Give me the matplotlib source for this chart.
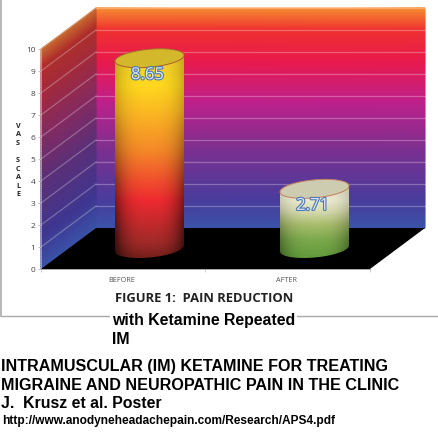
import numpy as np
import matplotlib
matplotlib.use("Agg")
import matplotlib.pyplot as plt
import matplotlib.patheffects as pe
from matplotlib.colors import LinearSegmentedColormap, to_rgb
from matplotlib.patches import Polygon

# chart data
categories = ["BEFORE", "AFTER"]
vas_values = [8.65, 2.71]
value_labels = ["8.65", "2.71"]
y_ticks = list(range(11))

W, H = 438, 446
PX_PER_UNIT = 22.0
Y0_PX = 269          # pixel row of VAS 0 on the front edge
DEPTH_X = 55         # 3d offset of the back wall
DEPTH_Y = 41 / PX_PER_UNIT
FRONT_L, FRONT_R = 41, 370
CAT_CENTERS = [122, 287]
BAR_A = 34.5         # half width of cylinder, px
BAR_B = 9.0          # half height of the ellipse, px
BAR_TILT = 3.0

wall_stops = [(0.0, "#3a52a8"), (0.13, "#4a3c9c"), (0.35, "#7a3090"), (0.58, "#c0208a"),
              (0.76, "#e81a4c"), (0.9, "#ef3030"), (1.0, "#f68a30")]
side_stops = [(0.0, "#3a52a8"), (0.15, "#3f3690"), (0.4, "#5c2f78"), (0.6, "#842a62"),
              (0.78, "#a02a40"), (0.92, "#ae2e2a"), (1.0, "#c86a30")]
bar_stops = [
    [(0.0, "#701e18"), (0.08, "#a02a28"), (0.28, "#ee2a30"), (0.52, "#f58a28"),
     (0.82, "#ffd81e"), (1.0, "#f0d030")],
    [(0.0, "#5f9a3a"), (0.24, "#7aa84a"), (0.43, "#a8bc6c"), (0.6, "#d8dcb0"),
     (0.73, "#ecebd0"), (1.0, "#e4e4c8")],
]
# brightness at the cylinder edge, (bottom, top)
bar_edge_dark = [(0.35, 0.8), (0.6, 0.85)]
bar_tops = ["#d4b82c", "#cdcbb0"]
bar_top_edges = ["#a8602a", "#c08060"]

wall_cmap = LinearSegmentedColormap.from_list("wall", wall_stops)
side_cmap = LinearSegmentedColormap.from_list("side", side_stops)

fig = plt.figure(figsize=(W / 100, H / 100), dpi=100)
ax = fig.add_axes([0, 0, 1, 1])
ax.set_xlim(0, W)
ax.set_ylim((Y0_PX - H) / PX_PER_UNIT, Y0_PX / PX_PER_UNIT)

# walls
v = np.linspace(0, 10, 101)
xx, vv = np.meshgrid([FRONT_L + DEPTH_X, W - 13], v)
ax.pcolormesh(xx, vv + DEPTH_Y, np.tile(v[:, None] / 10, (1, 2)), cmap=wall_cmap,
              shading="gouraud", vmin=0, vmax=1, zorder=1)
xx, vv = np.meshgrid([FRONT_L, FRONT_L + DEPTH_X], v)
yy = vv + np.array([0, DEPTH_Y])
ax.pcolormesh(xx, yy, np.tile(v[:, None] / 10, (1, 2)), cmap=side_cmap,
              shading="gouraud", vmin=0, vmax=1, zorder=1)

# floor
ax.add_patch(Polygon([(FRONT_L, 0), (FRONT_L + DEPTH_X, DEPTH_Y),
                      (FRONT_R + DEPTH_X, DEPTH_Y), (FRONT_R, 0)],
                     closed=True, fc="black", ec="none", zorder=2))

# gridlines
for t in y_ticks[1:]:
    ax.plot([FRONT_L, FRONT_L + DEPTH_X], [t, t + DEPTH_Y], color="white", alpha=0.28, lw=0.9, zorder=2)
    ax.plot([FRONT_L + DEPTH_X, FRONT_R + DEPTH_X], [t + DEPTH_Y, t + DEPTH_Y], color="white",
            alpha=0.28, lw=0.9, zorder=2)


def ring(cx, cy, t):
    return cx + BAR_A * np.cos(t), cy + (BAR_B * np.sin(t) + BAR_TILT * np.cos(t)) / PX_PER_UNIT


# cylinders
for i, val in enumerate(vas_values):
    cx = CAT_CENTERS[i] + DEPTH_X / 2
    base = DEPTH_Y / 2
    top = base + val
    stops = bar_stops[i]
    ys = np.linspace(0, 1, 200)
    cols = np.array([to_rgb(s[1]) for s in stops])
    pos = [s[0] for s in stops]
    grad = np.stack([np.interp(ys, pos, cols[:, k]) for k in range(3)], axis=1)
    xs = np.linspace(-1, 1, 100)
    edge = np.interp(ys, [0, 0.7], bar_edge_dark[i])[:, None]
    shade = edge + (1 - edge) * (1 - np.abs(xs)[None, :] ** 3)
    img = grad[:, None, :] * shade[:, :, None]
    ymin = base - 0.5
    ymax = top + 0.5
    im = ax.imshow(img, origin="lower", aspect="auto", zorder=3,
                   extent=[cx - BAR_A, cx + BAR_A, ymin, ymax])
    lo = ring(cx, base, np.linspace(np.pi, 2 * np.pi, 60))
    hi = ring(cx, top, np.linspace(0, np.pi, 60))
    body = Polygon(np.column_stack([np.r_[lo[0], hi[0]], np.r_[lo[1], hi[1]]]), closed=True,
                   transform=ax.transData, fc="none", ec="none")
    ax.add_patch(body)
    im.set_clip_path(body)
    tx, ty = ring(cx, top, np.linspace(0, 2 * np.pi, 120))
    ax.fill(tx, ty, fc=bar_tops[i], ec=bar_top_edges[i], lw=0.7, zorder=4)
    ax.text(cx - 2, top - 17 / PX_PER_UNIT, value_labels[i], ha="center", va="center", fontsize=12,
            family="Open Sans", color="#dfe8ef", zorder=5,
            path_effects=[pe.withStroke(linewidth=1.6, foreground="#4a78b8")])

ax.set_xlim(0, W)
ax.set_ylim((Y0_PX - H) / PX_PER_UNIT, Y0_PX / PX_PER_UNIT)

# axes, on the front edges of the box
for s in ["top", "right"]:
    ax.spines[s].set_visible(False)
ax.spines["left"].set_position(("data", FRONT_L))
ax.spines["left"].set_bounds(0, 10)
ax.spines["bottom"].set_position(("data", 0))
ax.spines["bottom"].set_bounds(FRONT_L, FRONT_R)
ax.spines["left"].set_color("#bbbbbb")
ax.spines["bottom"].set_color("#888888")
ax.spines["left"].set_linewidth(0.5)
ax.spines["bottom"].set_linewidth(0.5)
ax.set_yticks(y_ticks)
ax.set_xticks([FRONT_L, (CAT_CENTERS[0] + CAT_CENTERS[1]) / 2, FRONT_R])
ax.set_xticklabels([])
ax.set_xticks(CAT_CENTERS, categories, minor=True)
ax.tick_params(axis="y", labelsize=6, labelcolor="#444444", color="#aaaaaa", length=2, width=0.5, pad=2)
ax.tick_params(axis="x", which="major", color="#bbbbbb", length=2, width=0.5)
ax.tick_params(axis="x", which="minor", length=0, labelsize=5.2, labelcolor="#555555", pad=6)
for lab in ax.get_yticklabels() + ax.get_xticklabels(minor=True):
    lab.set_family("Open Sans")


def put(px, py, s, **kw):
    fig.text(px / W, 1 - py / H, s, va="center", **kw)


put(18, 160.5, "V\nA\nS\n\nS\nC\nA\nL\nE", fontsize=5.2, fontweight="bold", ha="center",
    family="Open Sans", color="#222222", linespacing=1.32)

# image frame
frame_y = (Y0_PX - 316) / PX_PER_UNIT
ax.plot([1, 1], [Y0_PX / PX_PER_UNIT, frame_y], color="#aaaaaa", lw=1.2, clip_on=False)
ax.plot([1, W], [frame_y, frame_y], color="#aaaaaa", lw=1.0)

# captions
white = dict(fc="white", ec="none", pad=1.5)
put(115, 298, "FIGURE 1:  PAIN REDUCTION", fontsize=9.4, fontweight="bold", family="Open Sans", color="#222222")
put(112, 320, "with Ketamine Repeated", fontsize=11.4, fontweight="bold", family="Liberation Sans",
    color="black", bbox=white)
put(112, 340, "IM", fontsize=11.4, fontweight="bold", family="Liberation Sans", color="black")
put(1, 366, "INTRAMUSCULAR (IM) KETAMINE FOR TREATING", fontsize=11.6, fontweight="bold",
    family="Liberation Sans", color="black")
put(1, 385, "MIGRAINE AND NEUROPATHIC PAIN IN THE CLINIC", fontsize=11.6, fontweight="bold",
    family="Liberation Sans", color="black")
put(1, 404, "J.  Krusz et al. Poster", fontsize=11.4, fontweight="bold", family="Liberation Sans", color="black")
put(2, 421, "http://www.anodyneheadachepain.com/Research/APS4.pdf", fontsize=8.6, fontweight="bold",
    family="Liberation Sans", color="black")

fig.savefig("out.png", dpi=100)
